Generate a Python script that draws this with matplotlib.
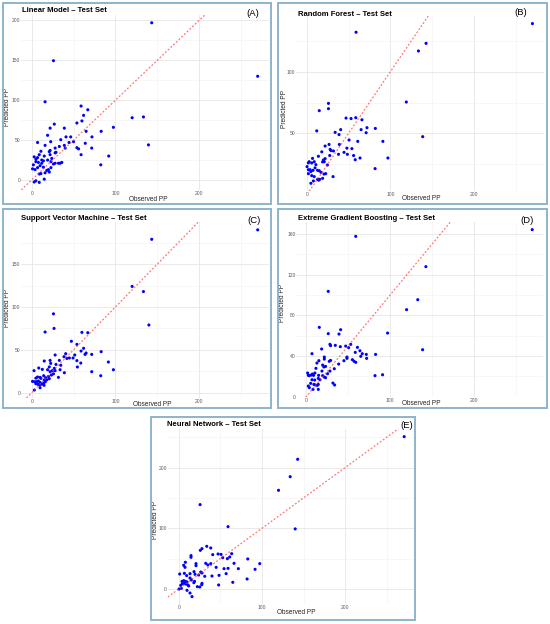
import matplotlib
matplotlib.use("Agg")
import matplotlib.pyplot as plt
from matplotlib.ticker import MultipleLocator
from matplotlib.patches import Rectangle
import numpy as np

plt.rcParams['font.family'] = ['Liberation Sans', 'DejaVu Sans']

# ---------------- data ----------------
lm_obs = [143.4, 26, 270, 16, 59, 67, 62, 27, 54, 60, 22, 39, 65, 83, 97.6, 120, 133.5, 139.5, 19, 46.6,
          41, 72, 34.7, 7, 22.7, 50, 44.6, 54, 56, 64, 71.7, 59, 82.5, 92, 16, 28, 33, 39, 40, 3,
          7, 11, 15, 21, 22, 29, 9, 2, 5, 8, 12, 14, 19, 23, 26, 28, 32, 34, 1, 4,
          7, 14, 20, 23, 9, 11, 16, 21, 3, 5, 9, 15, 28, 22, 12, 5, 18, 24, 36, 10]
lm_pred = [197, 149.5, 130, 98, 92.7, 88, 81, 70, 71.4, 74, 65, 65, 61, 61, 66, 78, 79, 44, 56, 54,
           54, 54, 50.5, 47, 48, 48, 47, 40.5, 39, 46, 40, 31.7, 19, 30, 43.4, 40, 42, 43.4, 40, 29,
           28, 36, 30, 35.5, 31.7, 34.7, 31.7, 19, 23, 22, 21, 24, 25, 23, 20, 21, 21, 21, 14, 13,
           15.5, 16, 13, 15.5, 7.5, 8, 9, 10, -2.5, -1, -3, 1, 34, 37, 25, 26, 12, 27, 22, 18]

rf_obs = [269.7, 59, 142.6, 133.5, 119, 26, 26, 15, 47, 53, 58.6, 66, 72, 65, 71, 82, 40.6, 34, 38.6, 12,
          138.6, 50.6, 61, 91, 39, 26.7, 22, 48, 54, 28, 29, 32, 18, 38, 44.6, 48.6, 27.5, 56, 63.7, 97,
          58, 14, 20, 21, 19, 22, 24.7, 7, 2, 3, 6, 9, 11, 0.4, 2, 4, 5, 7.5, 10, 13,
          15, 17, 20.7, 22.7, 81.7, 31.5, 2, 6, 9, 13, 14.3, 15.5, 19, 8, 5]
rf_pred = [139, 132, 123, 116.8, 75.4, 74.3, 70, 68.4, 62.4, 62, 62.7, 61, 54.6, 53, 50.5, 54, 53, 50.8, 49, 52,
           47.3, 44.6, 43.5, 43.5, 41, 41, 39.7, 38, 37.6, 37, 36, 35.7, 35, 33, 34.6, 33, 32, 32, 30, 30,
           28.6, 31.4, 28.4, 27, 26.8, 29.5, 24.3, 29.7, 26, 27, 26, 27, 24.6, 23, 20.5, 20.5, 19, 20, 22, 20,
           19.7, 18.4, 17, 17.3, 21.4, 14.9, 17.3, 15.7, 14.9, 12.7, 12, 12.7, 13.5, 11.4, 9.5]

svm_obs = [270, 143.4, 120, 133.5, 140, 26, 26.7, 16, 60, 67, 47.4, 54, 62, 59, 83, 65, 63.7, 71.7, 40.6, 51.4,
           28, 45, 49.4, 38.6, 42, 22, 33, 15, 22.7, 54, 58.6, 54.6, 34.7, 29, 33.9, 91.6, 97.6, 71.7, 82.5, 39,
           31.9, 2.8, 8.4, 12.7, 19, 21, 22, 24.7, 27, 28, 26, 23.5, 20, 16.7, 14.3, 21, 7, 10, 5, 11,
           1, 3.6, 6, 8, 10, 15, 16.3, 5, 7.6, 9.5, 12, 14.3, 14.7, 10, 3.2, 18]
svm_pred = [190, 179, 124, 118, 79, 92, 75, 70.8, 70.4, 70, 60, 56.4, 51.8, 48.6, 47.9, 46.3, 44.7, 44.7, 45.5, 44,
            44, 40.5, 40.5, 42, 40, 37.7, 37.7, 37, 34.2, 37.4, 34.6, 30, 32, 33, 26.8, 35.8, 26.8, 24.5, 19.8, 23.3,
            17.9, 25.7, 28.8, 27.2, 26.8, 30, 24.5, 25.7, 28.4, 25.7, 22, 20.6, 19, 17.5, 19.8, 16.3, 18.3, 17.9, 17, 16.7,
            13.2, 12.8, 12.8, 13.6, 12, 14.8, 12.8, 10.5, 9.7, 9, 10, 11, 8.6, 5.8, 3.1, 15]

xgb_obs = [269.6, 59, 142.7, 133, 119.7, 26.2, 15.5, 41, 26.2, 39, 97, 28.2, 29, 34.6, 40.6, 47, 53, 50.5, 61, 64,
           66.8, 71.6, 72, 65, 58.4, 82.7, 138.8, 6.8, 18.3, 21.5, 21.5, 48.5, 48.5, 55, 57, 59, 44.9, 27.4, 29, 15,
           12.7, 19.5, 21, 23, 33.4, 11.5, 38.6, 28.2, 18.7, 1.6, 2.4, 3.6, 6, 7.2, 8.7, 10.3, 14.7, 19.5, 21.5, 23,
           25.4, 82, 91, 6.8, 10, 14.3, 16.3, 5.2, 9, 10.7, 13, 14.3, 31.8, 33.8, 2.4, 3.6, 8, 14.3]
xgb_pred = [164.3, 157.7, 127.9, 95.4, 85.6, 103.6, 68.2, 65.9, 62, 61.6, 62.6, 51.5, 50.2, 50.5, 49.2, 49.8, 51.5, 48.2, 48.5, 45.2,
            42.3, 41.6, 37.7, 39.7, 43.6, 41.6, 46.2, 42.3, 46.9, 39, 37, 39, 37.7, 36.4, 34.8, 33.8, 35.4, 34.8, 35.7, 35.4,
            33.1, 31.1, 29.2, 29.8, 27.5, 27.9, 32.1, 25.2, 25.2, 23.3, 21, 20.7, 21.3, 22.3, 21, 23.3, 21, 20.7, 19.3, 18.7,
            22.6, 20.7, 21.6, 16.7, 16.4, 18, 16.7, 13.1, 12.1, 11.5, 11.1, 12.1, 13.4, 11.5, 10.5, 8.9, 7.2, 7.2]

nn_obs = [271, 143, 134, 120, 140, 25.7, 59.3, 33.7, 38.5, 28, 26, 14.8, 14.8, 40.9, 47.3, 50.9, 52.9, 58.5, 61.3, 63.7,
          83, 8, 6, 7.6, 20.8, 20.8, 35, 32.5, 38.5, 45, 54.5, 59.3, 71.7, 66.5, 97.4, 91.8, 6.8, 1.2, 13.6, 18.4,
          19.6, 26.5, 28, 24, 9.6, 31.3, 40, 48.5, 57, 13.6, 15.2, 19, 18.2, 4, 6, 8, 10, 6.8, 8.8, 4.4,
          2.4, 12, 22.4, 25.3, 27.7, 28, 48, 65, 82.2, 0.4, 3.2, 10, 13.6, 16, 11]
nn_pred = [251, 213.7, 185, 162.6, 99, 139, 102.7, 70.3, 67.6, 66.5, 63.7, 55, 52.2, 56.6, 57.7, 57, 51.6, 50, 52.7, 58.2,
           49.5, 44, 39, 35.7, 41.8, 38.5, 39.6, 42.3, 41.8, 35.7, 33.5, 34, 33.5, 42.3, 41.8, 32.4, 25.8, 24.7, 25.3, 28.6,
           24.2, 28, 26.4, 23, 22, 20.9, 21.4, 22.5, 25.3, 18.1, 14.8, 12.6, 10.4, 12.6, 13.7, 12.6, 11.5, 9.3, 8.2, 8.8,
           6, 5, 3.8, 3.3, 7.1, 9.3, 6.6, 11, 16.5, 0, 1.1, -2.2, -6.6, -12.6, 6.6]

titles = ["Linear Model \u2013 Test Set", "Random Forest \u2013 Test Set",
          "Support Vector Machine \u2013 Test Set", "Extreme Gradient Boosting \u2013 Test Set",
          "Neural Network \u2013 Test Set"]
tags = ["(A)", "(B)", "(C)", "(D)", "(E)"]
y_steps = [50, 50, 50, 40, 100]
x_label = "Observed PP"
y_label = "Predicted PP"

# ---------------- layout (pixels) ----------------
W, H = 550, 624
fig = plt.figure(figsize=(W / 100, H / 100), dpi=100)
fig.patch.set_facecolor("white")

# mapping: pixel of data 0 and pixels per unit (x0, sx, y0, sy)
maps = [(31.7, 0.837, 180.0, 0.798),
        (306.7, 0.837, 195.0, 1.233),
        (31.7, 0.837, 392.7, 0.857),
        (306.3, 0.838, 396.7, 1.0167),
        (178.7, 0.832, 589.0, 0.607)]
frames = [(2.7, 2.7, 271, 204), (278, 2.7, 547, 204), (2.7, 209, 271, 408),
          (278, 209, 547, 408), (151, 417, 415, 620)]
title_pos = [(21.7, 10.7), (297.7, 14), (20.7, 219), (297.7, 218.3), (167.3, 425)]
tag_pos = [(253, 13.3), (520.7, 12.7), (254, 220), (527.3, 220), (406.7, 425)]
xlab_pos = [(148, 199.3), (421.7, 199), (152, 404.3), (421.7, 403.7), (296.7, 612.3)]
ylab_pos = [(8.0, 106.7), (285, 109), (8.0, 308.3), (283, 303.3), (155.5, 520)]

data = [(lm_obs, lm_pred), (rf_obs, rf_pred), (svm_obs, svm_pred),
        (xgb_obs, xgb_pred), (nn_obs, nn_pred)]


def fx(px):
    return px / W


def fy(py):
    return 1 - py / H


for i, ((xs, ys), (x0, sx, y0, sy)) in enumerate(zip(data, maps)):
    xs = np.asarray(xs, float)
    ys = np.asarray(ys, float)
    xr = xs.max() - xs.min()
    yr = ys.max() - ys.min()
    xmin, xmax = xs.min() - 0.05 * xr, xs.max() + 0.05 * xr
    ymin, ymax = ys.min() - 0.05 * yr, ys.max() + 0.05 * yr
    left = x0 + xmin * sx
    right = x0 + xmax * sx
    top = y0 - ymax * sy
    bottom = y0 - ymin * sy
    ax = fig.add_axes([fx(left), fy(bottom), (right - left) / W, (bottom - top) / H])
    ax.set_xlim(xmin, xmax)
    ax.set_ylim(ymin, ymax)
    ax.set_facecolor("white")
    for s in ax.spines.values():
        s.set_visible(False)
    ax.xaxis.set_major_locator(MultipleLocator(100))
    ax.xaxis.set_minor_locator(MultipleLocator(50))
    ax.yaxis.set_major_locator(MultipleLocator(y_steps[i]))
    ax.yaxis.set_minor_locator(MultipleLocator(y_steps[i] / 2))
    ax.grid(which="major", color="#e6e6e6", lw=0.6)
    ax.grid(which="minor", color="#f2f2f2", lw=0.4)
    ax.set_axisbelow(True)
    ax.tick_params(which="both", length=0, labelsize=3.6, labelcolor="#5a5a5a", pad=0.6)
    ax.scatter(xs, ys, s=5, color="#0000ff", edgecolors="none", zorder=3)
    ax.axline((0, 0), slope=1, color="#ff3b3b", alpha=0.7, lw=0.9,
              linestyle=(0, (1.5, 1.5)), zorder=4)

    # texts
    tx, ty = title_pos[i]
    fig.text(fx(tx), fy(ty), titles[i], fontsize=5.5, fontweight="bold",
             ha="left", va="center", color="black")
    gx, gy = tag_pos[i]
    fig.text(fx(gx), fy(gy), tags[i], fontsize=6.8, ha="center", va="center", color="black")
    lx, ly = xlab_pos[i]
    fig.text(fx(lx), fy(ly), x_label, fontsize=4.7, ha="center", va="center", color="#222222")
    yx, yy = ylab_pos[i]
    fig.text(fx(yx), fy(yy), y_label, fontsize=4.7, ha="center", va="center",
             rotation=90, color="#222222")

    # frame
    l, t, r, b = frames[i]
    fig.patches.append(Rectangle((fx(l), fy(b)), (r - l) / W, (b - t) / H,
                                 transform=fig.transFigure, fill=False,
                                 edgecolor="#8db4cc", lw=1.4, zorder=10))

fig.savefig("out.png", dpi=100, facecolor="white")
